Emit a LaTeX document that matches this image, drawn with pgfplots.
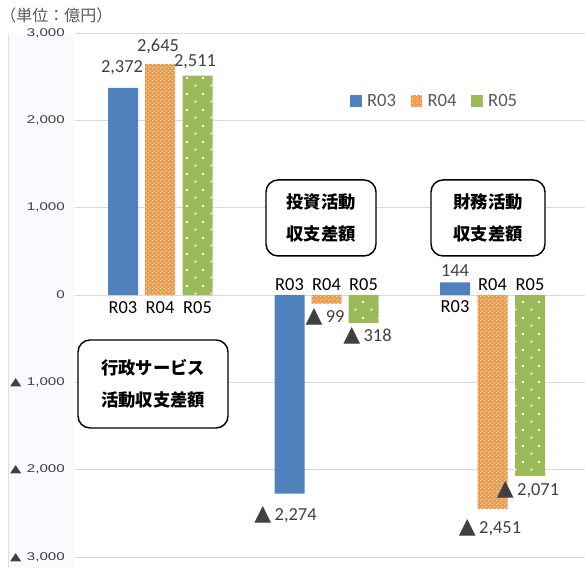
\documentclass[border=0pt]{standalone}
\usepackage{pgfplots}
\pgfplotsset{compat=1.18}
\usepackage{fontspec}
\setmainfont{Noto Sans CJK JP}
\newfontfamily\sym{DejaVu Sans}
\newfontfamily\tickf{Liberation Sans}
\newfontfamily\lab{Carlito}
\usetikzlibrary{patterns.meta}
\definecolor{cB}{HTML}{4F81BD}
\definecolor{cO}{HTML}{F79646}
\definecolor{cG}{HTML}{9BBB59}
\definecolor{txt}{HTML}{404040}
\definecolor{tick}{HTML}{595959}
\definecolor{tkc}{HTML}{404040}
\definecolor{lav}{HTML}{F9F9FE}
\newcommand{\tri}{{\sym\fontsize{16.5}{16}\selectfont ▲}\hspace{2.5pt}}
\newcommand{\ttri}{\scalebox{1.35}[1]{\sym\fontsize{8.2}{8}\selectfont ▲}\hspace{4pt}}
\newcommand{\tkl}[1]{\scalebox{1.35}[1]{#1}}
\tikzdeclarepattern{name=checker, type=uncolored,
  bottom left={(0pt,0pt)}, top right={(3pt,3pt)}, tile size={(3pt,3pt)},
  code={\fill (0pt,0pt) rectangle (0.85pt,0.85pt); \fill (1.5pt,1.5pt) rectangle (2.35pt,2.35pt);}}
\tikzdeclarepattern{name=sparsedots, type=uncolored,
  bottom left={(0pt,0pt)}, top right={(12pt,12pt)}, tile size={(12pt,12pt)},
  code={\fill (2pt,2pt) rectangle (3.5pt,3.5pt); \fill (8pt,8pt) rectangle (9.5pt,9.5pt);}}
\pgfplotsset{sq legend/.style={legend image code/.code={\path[##1] (0pt,-4.3pt) rectangle (8.6pt,4.3pt);}}}
\tikzset{
  dl/.style={font=\lab\fontsize{13.8}{15}\selectfont, text=txt, inner sep=0pt},
  cl/.style={font=\lab\fontsize{13.8}{15}\selectfont, text=black, inner sep=0pt},
  tl/.style={font=\tickf\fontsize{8.4}{9}\selectfont, text=tkc, inner sep=0pt, anchor=east, xshift=-7.5pt},
  box/.style={draw=black, line width=1.1pt, rounded corners=9pt, fill=white, align=center,
    font=\bfseries\fontsize{13}{24}\selectfont},
}
\begin{document}
\begin{tikzpicture}
\useasboundingbox (0,0) rectangle (438.75pt,426pt);
\fill[lav] (6pt,0pt) rectangle (56.25pt,400pt);
\draw[gray!25] (6pt,0pt) -- (6pt,400pt);
\begin{axis}[
  at={(56.25pt,8.25pt)}, anchor=south west,
  scale only axis, width=382.5pt, height=393pt,
  xmin=75, xmax=585, ymin=-3000, ymax=3000,
  xtick=\empty,
  ytick={-3000,-2000,-1000,0,1000,2000,3000},
  yticklabels={},
  ymajorgrids, grid style={draw=black!15, line width=0.6pt},
  axis line style={draw=none}, major tick length=0pt,
  clip=false,
  legend style={at={(axis cs:350,2221)}, anchor=west, draw=none, fill=none, inner sep=0pt,
    legend columns=3, font=\lab\fontsize{14}{15}\selectfont, text=tick,
    nodes={inner sep=0pt},
    /tikz/every odd column/.append style={column sep=4pt},
    /tikz/every even column/.append style={column sep=11pt}},
]
\addplot[ybar, sq legend, bar width=30, fill=cB, draw=none] coordinates {(123,2372) (289.5,-2274) (455,144)};
\addlegendentry{R03}
\addplot[ybar, sq legend, bar width=30, fill=cO, draw=none, postaction={pattern=checker, pattern color=white}] coordinates {(160,2645) (326.5,-99) (492.5,-2451)};
\addlegendentry{R04}
\addplot[ybar, sq legend, bar width=30, fill=cG, draw=none, postaction={pattern=sparsedots, pattern color=white}] coordinates {(197.5,2511) (363.5,-318) (530,-2071)};
\addlegendentry{R05}
% tick labels
\node[tl] at (axis cs:75,3000) {\tkl{3,000}};
\node[tl] at (axis cs:75,2000) {\tkl{2,000}};
\node[tl] at (axis cs:75,1000) {\tkl{1,000}};
\node[tl] at (axis cs:75,0) {\tkl{0}};
\node[tl] at (axis cs:75,-1000) {\ttri\tkl{1,000}};
\node[tl] at (axis cs:75,-2000) {\ttri\tkl{2,000}};
\node[tl] at (axis cs:75,-3000) {\ttri\tkl{3,000}};
% unit
\node[anchor=west, font=\fontsize{12}{13}\selectfont, text=tick, inner sep=0pt] at (axis cs:0,3206) {（単位：億円）};
% group 1
\node[dl] at (axis cs:122,2605) {2,372};
\node[dl] at (axis cs:158,2851) {2,645};
\node[dl] at (axis cs:195,2668) {2,511};
\node[cl] at (axis cs:123,-149) {R03};
\node[cl] at (axis cs:160,-149) {R04};
\node[cl] at (axis cs:197.5,-149) {R05};
% group 2
\node[cl] at (axis cs:289.5,115) {R03};
\node[cl] at (axis cs:326.5,115) {R04};
\node[cl] at (axis cs:363.5,115) {R05};
\node[dl] at (axis cs:325,-252) {\tri 99};
\node[dl] at (axis cs:367.5,-469) {\tri 318};
\node[dl] at (axis cs:285.5,-2519) {\tri 2,274};
% group 3
\node[dl] at (axis cs:455,275) {144};
\node[cl] at (axis cs:455,-137) {R03};
\node[cl] at (axis cs:492.5,115) {R04};
\node[cl] at (axis cs:530,115) {R05};
\node[dl] at (axis cs:490,-2668) {\tri 2,451};
\node[dl] at (axis cs:528,-2233) {\tri 2,071};
% boxes
\node[box, minimum width=112.5pt, minimum height=66pt] at (axis cs:153,-1019) {行政サービス\\活動収支差額};
\node[box, minimum width=82.5pt, minimum height=57pt] at (axis cs:321,882) {投資活動\\収支差額};
\node[box, minimum width=85.5pt, minimum height=57pt] at (axis cs:488,882) {財務活動\\収支差額};
\end{axis}
\end{tikzpicture}
\end{document}
